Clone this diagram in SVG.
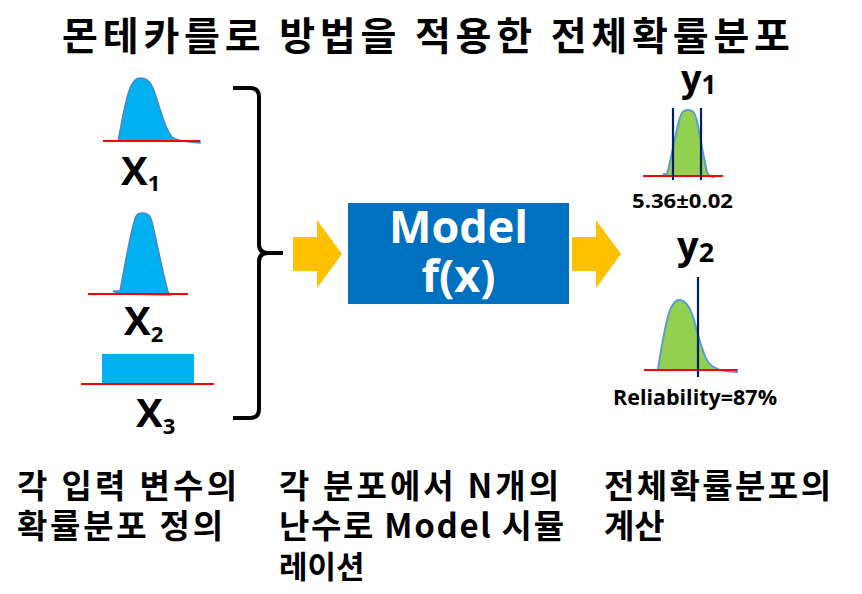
<svg xmlns="http://www.w3.org/2000/svg" width="862" height="594" viewBox="0 0 862 594">
<style>
.kr{font-family:"Noto Sans CJK KR","Noto Sans",sans-serif;font-weight:bold;fill:#000}
.lat{font-family:"Open Sans","Noto Sans",sans-serif;font-weight:bold;fill:#000}
.base{stroke:#FF0000;stroke-width:2;fill:none}
.bdist{fill:#00B0F0;stroke:#4A86C8;stroke-width:1.5}
.gdist{fill:#92D050;stroke:#5B9BD5;stroke-width:2}
.lim{stroke:#002060;stroke-width:2.2}
.arrow{fill:#FFC000}
.mtxt{font-family:"Open Sans","Noto Sans",sans-serif;font-weight:bold;fill:#FFFFFF}
</style>
<rect width="862" height="594" fill="#FFFFFF"/>
<text class="kr" x="62" y="50" font-size="39" textLength="728" lengthAdjust="spacing">몬테카를로 방법을 적용한 전체확률분포</text>

<g id="x1">
<path class="bdist" d="M118,141 C121,128 125,98 131,86 C134,80 137,78 140,78 C145,78 149,80 152,86 C156,94 158,104 161,112 C164,122 167,131 172,137 C178,142 190,142 200,143 L200,141 Z"/>
<line class="base" x1="103" y1="141" x2="200" y2="141"/>
<text class="lat" x="121" y="185" font-size="40">X<tspan font-size="22" dy="6">1</tspan></text>
</g>

<g id="x2">
<path class="bdist" d="M113,291 L120,291 C124,270 129,240 134,222 C136,214 138,213 142,213 C147,213 150,214 152,222 C156,238 161,265 168,292 L170,295 L120,294 Z"/>
<line class="base" x1="88" y1="294" x2="188" y2="294"/>
<text class="lat" x="124" y="335" font-size="40">X<tspan font-size="22" dy="7">2</tspan></text>
</g>

<g id="x3">
<rect x="102" y="354" width="92" height="30" fill="#00B0F0"/>
<line class="base" x1="81" y1="384" x2="214" y2="384"/>
<text class="lat" x="136" y="427" font-size="40">X<tspan font-size="22" dy="7">3</tspan></text>
</g>

<g id="connectors">
<path d="M233,88 L250,88 Q259,88 259,97 L259,244 Q259,253 268,253 L283,253 M268,253 Q259,253 259,262 L259,409 Q259,418 250,418 L233,418" fill="none" stroke="#000" stroke-width="4" stroke-linejoin="round"/>
<polygon class="arrow" points="293,237 317,237 317,220 342,254 317,288 317,271 293,271"/>
<polygon class="arrow" points="572,237 596,237 596,220 621,254 596,288 596,271 572,271"/>
</g>

<g id="model">
<rect x="348" y="203" width="221" height="101" fill="#0070C0"/>
<text class="mtxt" x="458.5" y="243" font-size="45" text-anchor="middle">Model</text>
<text class="mtxt" x="458.5" y="292" font-size="45" text-anchor="middle">f(x)</text>
</g>

<g id="y1">
<text class="lat" x="681" y="91" font-size="36">y<tspan font-size="26" dy="3">1</tspan></text>
<path class="gdist" d="M663,174 L667,174 C670,165 674,140 679,121 C681,113 683,110 688,110 C693,110 695,113 697,121 C700,135 703,155 707,172 C709,177 712,177 715,177 L708,176 L667,176 Z"/>
<line class="base" x1="643" y1="176" x2="723" y2="176"/>
<line class="lim" x1="673" y1="108" x2="673" y2="180"/>
<line class="lim" x1="701" y1="108" x2="701" y2="180"/>
<text class="lat" x="632" y="208" font-size="20" textLength="101" lengthAdjust="spacingAndGlyphs">5.36±0.02</text>
</g>

<g id="y2">
<text class="lat" x="677" y="259" font-size="38">y<tspan font-size="27" dy="3">2</tspan></text>
<path class="gdist" d="M658,369 C661,350 664,330 669,313 C672,304 675,300 679,300 C685,300 690,306 694,320 C698,335 702,352 708,362 C714,370 725,372 737,372 L737,370 L658,370 Z"/>
<line class="base" x1="644" y1="370" x2="737" y2="370"/>
<line class="lim" x1="698" y1="277" x2="698" y2="377"/>
<text class="lat" x="613" y="405" font-size="21" textLength="164" lengthAdjust="spacingAndGlyphs">Reliability=87%</text>
</g>

<g id="desc-left">
<text class="kr" x="17" y="498" font-size="33" textLength="220" lengthAdjust="spacing">각 입력 변수의</text>
<text class="kr" x="17" y="538" font-size="33" textLength="206" lengthAdjust="spacing">확률분포 정의</text>
</g>
<g id="desc-mid">
<text class="kr" x="279" y="498" font-size="33" textLength="280" lengthAdjust="spacing">각 분포에서 N개의</text>
<text class="kr" x="279" y="538" font-size="33" textLength="285" lengthAdjust="spacing">난수로 Model 시뮬</text>
<text class="kr" x="279" y="578" font-size="31">레이션</text>
</g>
<g id="desc-right">
<text class="kr" x="604" y="498" font-size="33" textLength="227" lengthAdjust="spacing">전체확률분포의</text>
<text class="kr" x="604" y="538" font-size="33">계산</text>
</g>
</svg>
